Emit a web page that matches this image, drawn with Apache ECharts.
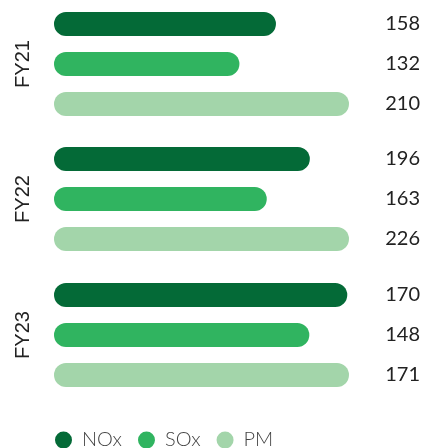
<!DOCTYPE html>
<html>
<head>
<meta charset="utf-8">
<script src="https://cdn.jsdelivr.net/npm/echarts@6/dist/echarts.min.js"></script>
<style>
  html, body { margin: 0; padding: 0; background: #fff; }
  #chart { width: 422px; height: 448px; }
</style>
</head>
<body>
<div id="chart"></div>
<script>
var years = ['FY21', 'FY22', 'FY23'];
var seriesNames = ['NOx', 'SOx', 'PM'];
var noxValues = [158, 196, 170];
var soxValues = [132, 163, 148];
var pmValues = [210, 226, 171];

var colors = ['#046a37', '#30b460', '#a3d5aa'];
var groupTops = [4, 139, 275];
var allValues = [noxValues, soxValues, pmValues];

var grids = [], xAxes = [], yAxes = [], series = [];

years.forEach(function (year, g) {
    grids.push({left: 54, right: 73, top: groupTops[g], height: 120});
    xAxes.push({
        gridIndex: g, type: 'value', min: 0,
        max: Math.max(noxValues[g], soxValues[g], pmValues[g]),
        show: false
    });
    yAxes.push({
        gridIndex: g, type: 'category', data: [year],
        axisLine: {show: false}, axisTick: {show: false},
        axisLabel: {
            rotate: 90, margin: 21, fontSize: 20,
            fontFamily: 'Liberation Sans', color: '#222'
        }
    });
    seriesNames.forEach(function (name, s) {
        series.push({
            name: name,
            type: 'bar',
            xAxisIndex: g,
            yAxisIndex: g,
            data: [allValues[s][g]],
            barWidth: 24,
            barGap: '66.7%',
            itemStyle: {color: colors[s], borderRadius: 12},
            label: {
                show: true,
                position: [366, 12],
                align: 'right',
                verticalAlign: 'middle',
                formatter: '{c}',
                fontSize: 20,
                fontFamily: 'Lato',
                color: '#222'
            }
        });
    });
});

var chart = echarts.init(document.getElementById('chart'));
chart.setOption({
    animation: false,
    color: colors,
    legend: {
        data: seriesNames,
        left: 55,
        top: 430,
        padding: 0,
        icon: 'circle',
        itemWidth: 17,
        itemHeight: 17,
        itemGap: 16,
        textStyle: {
            fontSize: 20, fontFamily: 'Lato', fontWeight: 300, color: '#444',
            padding: [0, 0, 0, 5]
        }
    },
    grid: grids,
    xAxis: xAxes,
    yAxis: yAxes,
    series: series
});
</script>
</body>
</html>
